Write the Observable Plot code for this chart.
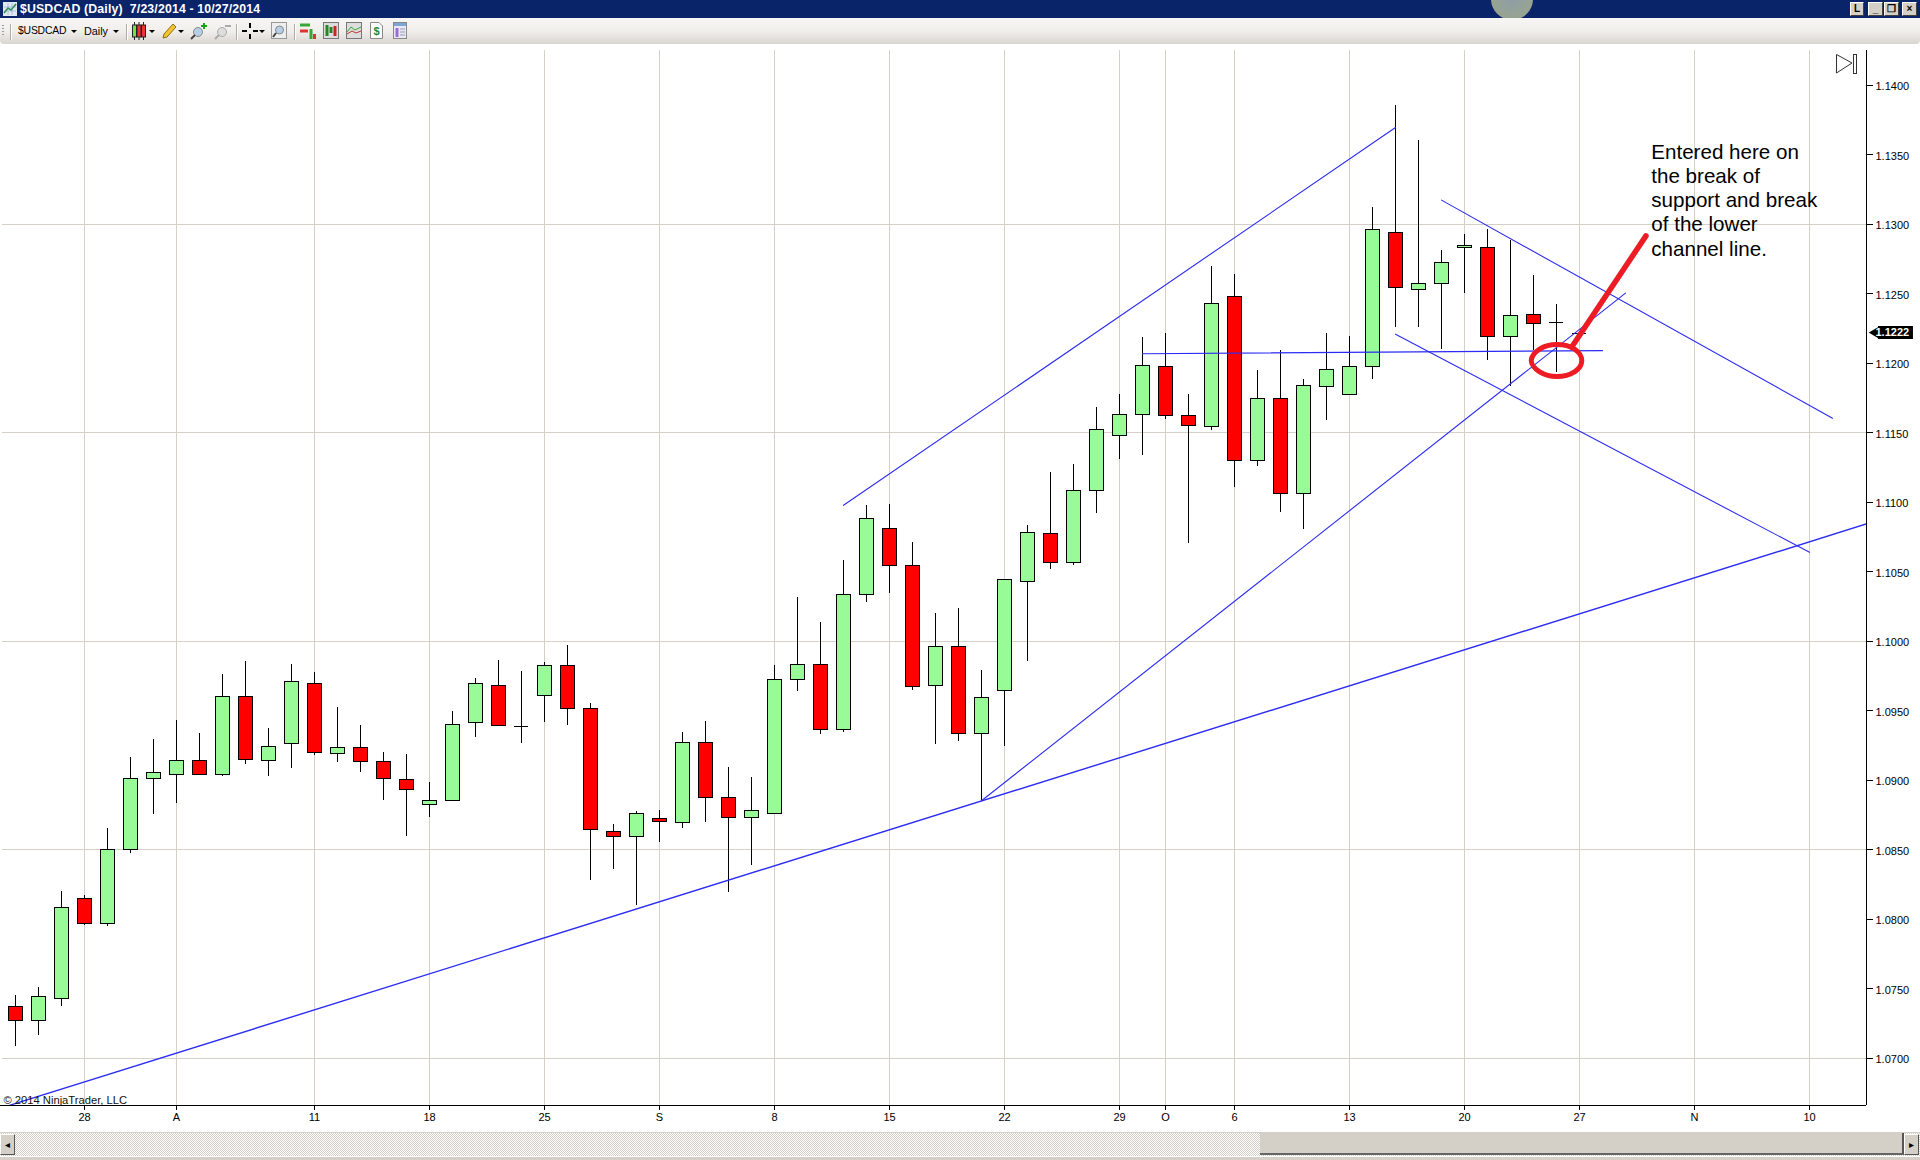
<!DOCTYPE html>
<html>
<head>
<meta charset="utf-8">
<title>$USDCAD (Daily)</title>
<script src="https://cdn.jsdelivr.net/npm/d3@7"></script>
<script src="https://cdn.jsdelivr.net/npm/@observablehq/plot@0.6"></script>
<style>
html,body{margin:0;padding:0;background:#fff;width:1920px;height:1160px;overflow:hidden;font-family:"Liberation Sans",Arial,sans-serif}
#titlebar{position:absolute;left:0;top:0;width:1920px;height:18px;background:#0a246a;overflow:hidden}
#titlebar .t{position:absolute;left:20px;top:1px;color:#fff;font:bold 12.3px/16px "Liberation Sans",sans-serif;white-space:pre;letter-spacing:.15px}
#titlebar .glow{position:absolute;left:1491px;top:-22px;width:42px;height:42px;border-radius:50%;background:radial-gradient(circle,#8f9ea6 0%,#98a490 72%,#c2ae62 100%)}
.wbtn{position:absolute;top:2px;height:14px;background:#d4d0c8;border:1px solid #fff;border-right-color:#404040;border-bottom-color:#404040;box-sizing:border-box;text-align:center;font:bold 10px/11px "Liberation Sans",sans-serif;color:#000}
#toolbar{position:absolute;left:0;top:18px;width:1920px;height:26px;background:linear-gradient(#f7f6f4,#f1efec 50%,#d9d5d1);border-radius:0 0 4px 4px;font:10.8px/26px "Liberation Sans",sans-serif;color:#000}
#toolbar span{position:absolute;top:0}
.sep{position:absolute;top:6px;width:1px;height:16px;background:#b0aca6;border-right:1px solid #fff}
.tri{position:absolute;top:12px;width:0;height:0;border-left:3px solid transparent;border-right:3px solid transparent;border-top:3px solid #000}
.grip{position:absolute;left:2px;top:7px;width:2px;height:11px;background:repeating-linear-gradient(#999 0 1px,transparent 1px 3px)}
#toolbar svg{position:absolute;top:4px}
#chart{position:absolute;left:0;top:44px}
#endicon{position:absolute;left:1835px;top:53px}
#scroll{position:absolute;left:0;top:1132px;width:1920px;height:24px;background:repeating-conic-gradient(#d4d0c8 0 25%,#fff 0 50%) 0 0/2px 2px;border-top:1px solid #d4d0c8;box-sizing:border-box}
#scroll .thumb{position:absolute;left:1260px;top:0;width:644px;height:22px;background:#d4d0c8;border-right:2px solid #555;border-bottom:2px solid #666;box-sizing:border-box}
#scroll .btn{position:absolute;top:1px;width:15px;height:21px;background:#d4d0c8;border:1px solid #fff;border-right-color:#555;border-bottom-color:#555;box-sizing:border-box;font:10px/19px "Liberation Sans",sans-serif;text-align:center}
#foot{position:absolute;left:0;top:1156px;width:1920px;height:4px;background:#d4d0c8;border-top:1px solid #fff;box-sizing:border-box}
</style>
</head>
<body>
<div id="titlebar">
  <svg style="position:absolute;left:3px;top:2px" width="14" height="14"><rect width="14" height="14" fill="#dfe8f4"/><path d="M1 11 L5 6 L8 8 L13 2" stroke="#1a8a3a" fill="none" stroke-width="1.5"/><path d="M1 5 H13 M1 9 H13 M5 1 V13 M9 1 V13" stroke="#7f9fc6" stroke-width=".5"/></svg>
  <div class="t">$USDCAD (Daily)  7/23/2014 - 10/27/2014</div>
  <div class="glow"></div>
  <div class="wbtn" style="left:1850px;width:14px">L</div>
  <div class="wbtn" style="left:1868px;width:15px">_</div>
  <div class="wbtn" style="left:1884px;width:15px">❐</div>
  <div class="wbtn" style="left:1902px;width:15px">×</div>
</div>
<div id="toolbar">
  <div class="grip"></div>
  <div class="sep" style="left:10px"></div>
  <span style="left:18px;font-size:10.4px;letter-spacing:-.2px">$USDCAD</span>
  <i class="tri" style="left:71px"></i>
  <span style="left:84px">Daily</span>
  <i class="tri" style="left:113px"></i>
  <div class="sep" style="left:126px"></div>
  <svg style="left:131px" width="16" height="18"><path d="M3.5 0V18M8 0V18M12.5 0V18" stroke="#222"/><rect x="1.5" y="3" width="4" height="12" fill="#7fdc3c" stroke="#222"/><rect x="6" y="3" width="4" height="12" fill="#e33" stroke="#222"/><rect x="10.500" y="3" width="4" height="12" fill="#e33" stroke="#222"/></svg>
  <i class="tri" style="left:149px"></i>
  <svg style="left:161px" width="16" height="18"><path d="M2 16 L3 12 L12 2 L15 5 L6 15 Z" fill="#f4c430" stroke="#8a6d10"/></svg>
  <i class="tri" style="left:178px"></i>
  <svg style="left:190px" width="18" height="18"><circle cx="8" cy="10" r="4.500" fill="#b5cfe8" stroke="#8a8a8a"/><path d="M5 13 L1 17" stroke="#444" stroke-width="2"/><path d="M14 1V7M11 4H17" stroke="#1aa31a" stroke-width="2"/></svg>
  <svg style="left:214px" width="18" height="18"><circle cx="8" cy="10" r="4.500" fill="#ddd" stroke="#aaa"/><path d="M5 13 L1 17" stroke="#aaa" stroke-width="2"/><path d="M11 4H17" stroke="#aaa" stroke-width="2"/></svg>
  <div class="sep" style="left:236px"></div>
  <svg style="left:242px" width="16" height="18"><path d="M0 9H5M11 9H16M8 1V6M8 12V17" stroke="#000" stroke-width="2"/></svg>
  <i class="tri" style="left:259px"></i>
  <svg style="left:271px" width="16" height="18"><rect x=".5" y=".5" width="15" height="16" fill="#eee" stroke="#999"/><circle cx="8.500" cy="8" r="4" fill="#b5cfe8" stroke="#888"/><path d="M5 11 L2 15" stroke="#444" stroke-width="2"/></svg>
  <div class="sep" style="left:294px"></div>
  <svg style="left:300px" width="16" height="18"><path d="M0 3H10" stroke="#3a3" stroke-width="3"/><path d="M0 9H8" stroke="#d33" stroke-width="3"/><path d="M11 7V17" stroke="#3a3" stroke-width="3"/><path d="M14.500 12V17" stroke="#d33" stroke-width="3"/></svg>
  <svg style="left:323px" width="16" height="18"><rect x=".5" y=".5" width="15" height="16" fill="#ddd" stroke="#777"/><path d="M4 3V14" stroke="#282" stroke-width="3"/><path d="M8 5V11" stroke="#282" stroke-width="3"/><path d="M12 4V14" stroke="#c22" stroke-width="3"/></svg>
  <svg style="left:346px" width="16" height="18"><rect x=".5" y=".5" width="15" height="16" fill="#ddd" stroke="#777"/><path d="M1 10 L5 5 L9 8 L15 5" stroke="#3a3" fill="none"/><path d="M1 12 L6 9 L10 11 L15 9" stroke="#c33" fill="none"/></svg>
  <svg style="left:370px" width="13" height="18"><path d="M.5 .5H9L12.500 4V16.500H.5Z" fill="#fff" stroke="#888"/><text x="6.500" y="13" font-size="11" font-weight="bold" fill="#1a8a3a" text-anchor="middle" font-family="Liberation Sans">$</text></svg>
  <svg style="left:393px" width="14" height="18"><rect x=".5" y=".5" width="13" height="16" fill="#e8e8f6" stroke="#888"/><rect x="1" y="1" width="12" height="3" fill="#7aa6d6"/><rect x="2.500" y="6" width="3" height="9" fill="#9b6fd0"/><path d="M7 7H12M7 10H12M7 13H12" stroke="#99a"/></svg>
</div>
<div id="chart"></div>
<svg id="endicon" width="24" height="24"><path d="M1.500 1.500 L17 10 L1.500 20 Z" fill="none" stroke="#333"/><rect x="18.500" y="1.500" width="3" height="19" fill="none" stroke="#333"/></svg>
<div id="scroll">
  <div class="btn" style="left:0">◂</div>
  <div class="thumb"></div>
  <div class="btn" style="left:1904px">▸</div>
</div>
<div id="foot"></div>
<script>
// Daily $USDCAD candles, one entry per trading session
const highs = [1.07451,1.07508,1.08199,1.08168,1.08652,1.09163,1.09293,1.09429,1.09336,1.09760,1.09854,1.09372,1.09832,1.09775,1.09522,1.09392,1.09198,1.09183,1.08982,1.09493,1.09730,1.09860,1.09781,1.09850,1.09968,1.09550,1.08680,1.08778,1.08781,1.09342,1.09421,1.09090,1.09018,1.09824,1.10313,1.10133,1.10579,1.10975,1.10982,1.10709,1.10198,1.10234,1.09788,1.10439,1.10830,1.11211,1.11269,1.11679,1.11772,1.12188,1.12217,1.11772,1.12692,1.12641,1.11951,1.12090,1.11884,1.12215,1.12193,1.13121,1.13855,1.13603,1.12812,1.12927,1.12963,1.12884,1.12632,1.12423,1.12216];
const lows = [1.07086,1.07165,1.07374,1.07957,1.07950,1.08475,1.08755,1.08835,1.09038,1.09029,1.09113,1.09029,1.09086,1.09180,1.09129,1.09056,1.08855,1.08596,1.08733,1.08850,1.09308,1.09390,1.09265,1.09416,1.09394,1.08279,1.08359,1.08097,1.08553,1.08653,1.08697,1.08193,1.08387,1.08757,1.09639,1.09330,1.09347,1.10279,1.10344,1.09646,1.09258,1.09279,1.08855,1.09242,1.09854,1.10516,1.10544,1.10918,1.11307,1.11336,1.11595,1.10703,1.11516,1.11106,1.11257,1.10926,1.10807,1.11591,1.11773,1.11886,1.12260,1.12260,1.12102,1.12498,1.12016,1.11829,1.12088,1.11932,1.12216];
const opens = [1.07369,1.07266,1.07427,1.08146,1.07966,1.08499,1.09010,1.09038,1.09139,1.09038,1.09600,1.09139,1.09261,1.09693,1.09189,1.09231,1.09131,1.09001,1.08821,1.08850,1.09411,1.09677,1.09390,1.09606,1.09821,1.09512,1.08627,1.08591,1.08721,1.08692,1.09267,1.08872,1.08728,1.08757,1.09721,1.09829,1.09361,1.10332,1.10807,1.10541,1.09677,1.09958,1.09332,1.09640,1.10424,1.10770,1.10561,1.11079,1.11475,1.11626,1.11970,1.11619,1.11540,1.12474,1.11295,1.11741,1.11061,1.11831,1.11773,1.11975,1.12939,1.12529,1.12572,1.12832,1.12831,1.12191,1.12349,1.12291,1.12216];
const closes = [1.07266,1.07441,1.08082,1.07966,1.08499,1.09010,1.09053,1.09139,1.09038,1.09600,1.09146,1.09240,1.09707,1.09197,1.09233,1.09131,1.09008,1.08929,1.08850,1.09397,1.09692,1.09390,1.09390,1.09821,1.09512,1.08641,1.08591,1.08757,1.08699,1.09267,1.08872,1.08728,1.08778,1.09721,1.09829,1.09361,1.10332,1.10879,1.10541,1.09670,1.09958,1.09332,1.09591,1.10439,1.10777,1.10561,1.11079,1.11518,1.11626,1.11977,1.11619,1.11547,1.12423,1.11295,1.11741,1.11058,1.11838,1.11953,1.11975,1.12960,1.12543,1.12572,1.12723,1.12840,1.12191,1.12342,1.12284,1.12291,1.12216];

// Time axis: session index of each labelled gridline, and its label
const xTickIndex = [3,7,13,18,23,28,33,38,43,48,50,53,58,63,68,73,78];
const xTickLabels = ["28","A","11","18","25","S","8","15","22","29","O","6","13","20","27","N","10"];

// Price axis
const yTicks = [1.07,1.075,1.08,1.085,1.09,1.095,1.10,1.105,1.11,1.115,1.12,1.125,1.13,1.135,1.14];
const yGrid = [1.07,1.085,1.10,1.115,1.13];
const lastPrice = 1.1222;

// Drawn trend / channel lines, as [session, price] end points
const trendLines = [
  {name:"support", width:1.4, pts:[[-0.23,1.06664],[80.48,1.10844]]},
  {name:"rising",  width:1.1, pts:[[42,1.08853],[70,1.12504]]},
  {name:"upper",   width:1.1, pts:[[36,1.10978],[60,1.13695]]},
  {name:"level",   width:1.2, pts:[[49,1.12068],[69,1.12091]]},
  {name:"chanLow", width:1.1, pts:[[60,1.12209],[78,1.10640]]},
  {name:"chanHigh",width:1.1, pts:[[62,1.13173],[79,1.11604]]}
];

// Hand-drawn red marks: circle round the entry, and its pointer
const redCircle = [[65.9,1.12019],[66.25,1.1210],[67.02,1.12134],[67.8,1.1210],[68.1,1.12019],[67.8,1.1194],[67.02,1.11904],[66.25,1.1194]];
const redPointer = [[70.89,1.12916],[67.67,1.12119]];

// Annotation text, one entry per line
const noteLines = ["Entered here on","the break of","support and break","of the lower","channel line."];
const noteY = [1.13513,1.13340,1.13168,1.12995,1.12822];
const noteX = 71.12;

const candles = highs.map((h,i)=>({i,high:h,low:lows[i],open:opens[i],close:closes[i]}));
const bodies = candles.filter(d=>d.open!==d.close);
const dojis = candles.filter(d=>d.open===d.close);
const lineRows = trendLines.flatMap(l=>l.pts.map(p=>({name:l.name,width:l.width,x:p[0],y:p[1]})));
const halfBody = 7/23;
const xMax = (1866-15)/23, xMin = -15/23;
const GREEN = "#98fb98", RED = "#ff0000", GRID = "#d4d0c8", BLUE = "#2b2bf5";
const font = '"Liberation Sans", Arial, sans-serif';
const crisp = {shapeRendering:"crispEdges"};

const chart = Plot.plot({
  width:1920, height:1088,
  marginLeft:0, marginRight:54, marginTop:6, marginBottom:27,
  style:{background:"transparent", fontFamily:font},
  x:{type:"linear", domain:[xMin,xMax], range:[0,1866]},
  y:{type:"linear", domain:[1.06664,1.14252], range:[1060.6,5.6]},
  marks:[
    Plot.ruleY(yGrid,{x1:xMin+2/23,x2:xMax,stroke:GRID,strokeWidth:1,...crisp}),
    Plot.ruleX(xTickIndex,{stroke:GRID,strokeWidth:1,...crisp}),
    Plot.ruleX(candles,{x:"i",y1:"low",y2:"high",stroke:"#000",strokeWidth:1,...crisp}),
    Plot.rect(bodies,{
      x1:d=>d.i-halfBody, x2:d=>d.i+halfBody,
      y1:d=>Math.min(d.open,d.close), y2:d=>Math.max(d.open,d.close),
      fill:d=>d.close>=d.open?GREEN:RED,
      stroke:"#000", strokeWidth:1, dx:0.5, ...crisp
    }),
    Plot.ruleY(dojis,{y:"open",x1:d=>d.i-halfBody,x2:d=>d.i+halfBody,stroke:"#000",strokeWidth:1,...crisp}),
    ...trendLines.map(l=>Plot.line(lineRows.filter(r=>r.name===l.name),{x:"x",y:"y",stroke:BLUE,strokeWidth:l.width,clip:true})),
    Plot.line(redCircle,{x:d=>d[0],y:d=>d[1],curve:"cardinal-closed",stroke:"#ed1c24",strokeWidth:5}),
    Plot.line(redPointer,{x:d=>d[0],y:d=>d[1],stroke:"#ed1c24",strokeWidth:5.5,strokeLinecap:"round"}),
    Plot.text(noteLines,{x:noteX,y:(d,i)=>noteY[i],text:d=>d,textAnchor:"start",fontSize:20.6,fill:"#000",fontFamily:font}),
    Plot.ruleX([xMax],{stroke:"#000",strokeWidth:1,...crisp}),
    Plot.ruleY([1.06664],{stroke:"#000",strokeWidth:1,...crisp}),
    Plot.axisY({anchor:"right",ticks:yTicks,tickFormat:d3.format(".4f"),tickSize:6,fill:"none",label:null,stroke:"#000",...crisp}),
    Plot.text(yTicks,{y:d=>d,text:d3.format(".4f"),frameAnchor:"right",textAnchor:"start",dx:9,dy:1.4,fontSize:11,fill:"#000",fontFamily:font}),
    Plot.axisX({anchor:"bottom",ticks:xTickIndex,tickFormat:i=>xTickLabels[xTickIndex.indexOf(i)],tickSize:5,tickPadding:3,fontSize:11,label:null,stroke:"#000",fill:"#000",...crisp}),
    Plot.ruleY([lastPrice],{x1:81.0,x2:82.52,stroke:"#000",strokeWidth:13}),
    Plot.dot([lastPrice],{x:80.9,y:d=>d,symbol:"triangle2",rotate:-90,r:5,fill:"#000",stroke:"#000",clip:false}),
    Plot.text([lastPrice],{x:81.6,y:d=>d,text:d=>d.toFixed(4),fill:"#fff",fontSize:11,fontWeight:"bold",fontFamily:font}),
    Plot.text(["© 2014 NinjaTrader, LLC"],{frameAnchor:"bottom-left",dx:3,dy:-2,lineAnchor:"bottom",textAnchor:"start",fontSize:11.2,fill:"#111",fontFamily:font})
  ]
});
document.getElementById("chart").appendChild(chart);
</script>
</body>
</html>
